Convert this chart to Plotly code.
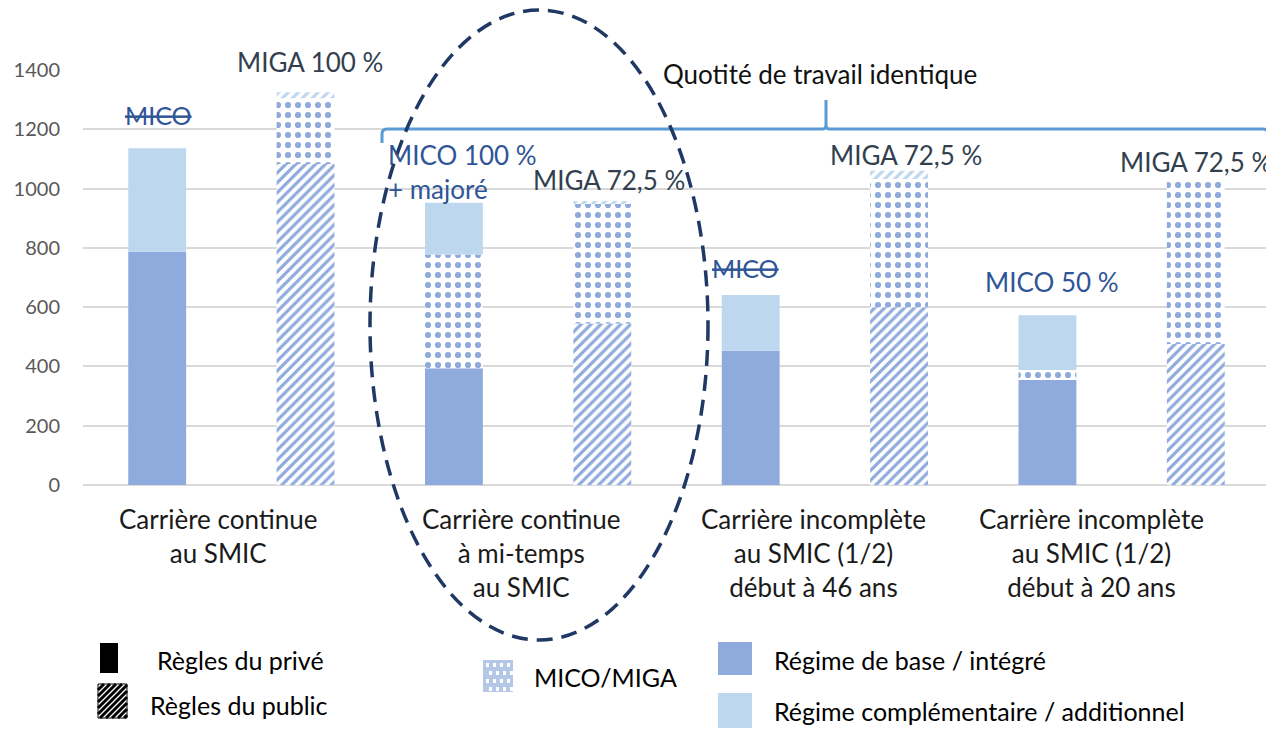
import plotly.graph_objects as go
import numpy as np

categories = [
    "Carrière continue<br>au SMIC",
    "Carrière continue<br>à mi-temps<br>au SMIC",
    "Carrière incomplète<br>au SMIC (1/2)<br>début à 46 ans",
    "Carrière incomplète<br>au SMIC (1/2)<br>début à 20 ans",
]
# Règles du privé
priv_base = [787, 394, 453, 354]
priv_mico = [0, 384, 0, 34]
priv_comp = [349, 174, 188, 185]
# Règles du public
pub_base = [1083, 545, 600, 476]
pub_miga = [222, 403, 432, 559]
pub_add = [20, 10, 28, 0]

y_ticks = [0, 200, 400, 600, 800, 1000, 1200, 1400]

C_BASE = "#8FAADC"
C_COMP = "#BDD7EE"
C_MICO_TXT = "#2F5597"
C_MIGA_TXT = "#323F4F"
FONT = "Lato"

fig = go.Figure()

def add_bar(vals, base, group, color, pattern=None):
    if pattern is None:
        marker = dict(color=color, line=dict(width=0))
    elif pattern == "/":
        marker = dict(color="white", line=dict(width=0),
                      pattern=dict(shape="/", fgcolor=color, bgcolor="white",
                                   size=7, solidity=0.45, fillmode="replace"))
    else:
        marker = dict(color="white", line=dict(width=0),
                      pattern=dict(shape=".", fgcolor=color, bgcolor="white",
                                   size=10, solidity=0.3, fillmode="replace"))
    fig.add_trace(go.Bar(x=categories, y=vals, base=base, offsetgroup=group,
                         marker=marker, showlegend=False, hoverinfo="y"))

pb = np.array(priv_base); pm = np.array(priv_mico); pc = np.array(priv_comp)
ub = np.array(pub_base); um = np.array(pub_miga); ua = np.array(pub_add)

add_bar(pb, np.zeros(4), "priv", C_BASE)
add_bar(pm, pb, "priv", C_BASE, ".")
add_bar(pc, pb + pm, "priv", C_COMP)
add_bar(ub, np.zeros(4), "pub", C_BASE, "/")
add_bar(um, ub, "pub", C_BASE, ".")
add_bar(ua, ub + um, "pub", C_COMP, "/")

# Page has an 8px body margin: window coordinates -> figure coordinates
OFF = 8
PX_L, PX_R, PX_T, PX_B = 83, 1270, 70, 485   # plot area in window pixels
W, H = 1274 - OFF, 729 - OFF                 # figure size
L = PX_L - OFF
T = PX_T - OFF
R = W - (PX_R - OFF)
B = H - (PX_B - OFF)

def px(x):
    return (x - PX_L) / (PX_R - PX_L)

def py(y):
    return (PX_B - y) / (PX_B - PX_T)

fig.update_layout(
    width=W, height=H, autosize=False,
    margin=dict(l=L, r=R, t=T, b=B, pad=0),
    plot_bgcolor="white", paper_bgcolor="white",
    barmode="group", bargap=0.0, bargroupgap=0.61,
    font=dict(family=FONT),
    xaxis=dict(showgrid=False, showline=False, ticks="", automargin=False,
               showticklabels=False),
    yaxis=dict(range=[0, 1400], tickvals=y_ticks, showgrid=True, automargin=False,
               gridcolor="#D9D9D9", gridwidth=1.5, zeroline=True,
               zerolinecolor="#D9D9D9", zerolinewidth=1.5, showline=False,
               tickfont=dict(size=20, color="#595959", family=FONT),
               ticklabelstandoff=22),
)

# Category labels (placed under each group, slightly left as in the source)
label_shift = [-13, -7, -11, -30]
for cat, sh in zip(categories, label_shift):
    fig.add_annotation(text=cat, x=cat, xref="x", y=py(501), yref="paper",
                       xshift=sh, xanchor="center", yanchor="top", showarrow=False,
                       align="center", font=dict(size=26, color="#1a1a1a", family=FONT))

anns = [
    ("<s>MICO</s>", 158, 115, C_MICO_TXT, 25, "center"),
    ("MIGA 100 %", 310, 62, C_MIGA_TXT, 26, "center"),
    ("MICO 100 %<br>+ majoré", 386, 172, C_MICO_TXT, 26, "left"),
    ("MIGA 72,5 %", 609, 180, C_MIGA_TXT, 26, "center"),
    ("MIGA 72,5 %", 906, 155, C_MIGA_TXT, 26, "center"),
    ("<s>MICO</s>", 745, 268, C_MICO_TXT, 25, "center"),
    ("MICO 50 %", 1052, 282, C_MICO_TXT, 26, "center"),
    ("MIGA 72,5 %", 1196, 162, C_MIGA_TXT, 26, "center"),
    ("Quotité de travail identique", 820, 74, "#111111", 26, "center"),
]
for text, x, y, col, size, align in anns:
    fig.add_annotation(text=text, x=px(x), y=py(y), xref="paper", yref="paper",
                       xanchor=align, yanchor="middle", showarrow=False, align=align,
                       font=dict(size=size, color=col, family=FONT))

# Bracket
bc = "#5B9BD5"
yb = py(129)
xl, xm, xr = 382, 826, 1268
fig.add_shape(type="path", xref="paper", yref="paper",
              path=(f"M {px(xl)} {py(143)} L {px(xl)} {py(134)} Q {px(xl)} {yb} {px(xl+5)} {yb} "
                    f"L {px(xm-3)} {yb} Q {px(xm)} {yb} {px(xm)} {py(124)} L {px(xm)} {py(100)} "
                    f"M {px(xm)} {py(124)} Q {px(xm)} {yb} {px(xm+3)} {yb} "
                    f"L {px(xr-5)} {yb} Q {px(xr)} {yb} {px(xr)} {py(134)} L {px(xr)} {py(143)}"),
              line=dict(color=bc, width=3))

# Dashed ellipse
fig.add_shape(type="circle", xref="paper", yref="paper",
              x0=px(370), x1=px(708), y0=py(640), y1=py(10),
              line=dict(color="#1F3864", width=3.5, dash="16px,9px"))

# Custom legend
def rect(x0, y0, x1, y1, fill, line=None):
    fig.add_shape(type="rect", xref="paper", yref="paper",
                  x0=px(x0), x1=px(x1), y0=py(y1), y1=py(y0),
                  fillcolor=fill, line=dict(width=0 if line is None else 1, color=line or fill))

rect(100, 643, 118, 673, "black")
# hatched black square
rect(98, 684, 127, 718, "white")
x0, y0, x1, y1 = 98, 684, 127, 718
for k in range(-40, 40, 6):
    c = x0 + y1 + k
    pts = []
    for xx in (x0, x1):
        yy = c - xx
        if y0 <= yy <= y1:
            pts.append((xx, yy))
    for yy in (y0, y1):
        xx = c - yy
        if x0 <= xx <= x1:
            pts.append((xx, yy))
    if len(pts) >= 2:
        (ax, ay), (bx, by) = pts[0], pts[1]
        fig.add_shape(type="line", xref="paper", yref="paper",
                      x0=px(ax), y0=py(ay), x1=px(bx), y1=py(by),
                      line=dict(color="black", width=3))
fig.add_shape(type="rect", xref="paper", yref="paper", x0=px(98), x1=px(127),
              y0=py(718), y1=py(684), line=dict(color="black", width=1))

# dotted MICO/MIGA swatch
rect(483, 660, 513, 692, "#B4C7E7")
for i in range(4):
    for j in range(4):
        cx = 486 + i * 7 + (3 if j % 2 else 0)
        cy = 663 + j * 8
        if cx + 3 <= 513:
            rect(cx, cy, cx + 3, cy + 4, "white")

rect(718, 642, 752, 675, C_BASE)
rect(718, 693, 752, 728, C_COMP)

legend_txt = [
    ("Règles du privé", 155, 660),
    ("Règles du public", 148, 705),
    ("MICO/MIGA", 532, 677),
    ("Régime de base / intégré", 772, 660),
    ("Régime complémentaire / additionnel", 772, 711),
]
for t, x, y in legend_txt:
    fig.add_annotation(text=t, x=px(x), y=py(y), xref="paper", yref="paper",
                       xanchor="left", yanchor="middle", showarrow=False,
                       font=dict(size=25, color="black", family=FONT))

fig.write_html("out.html")
